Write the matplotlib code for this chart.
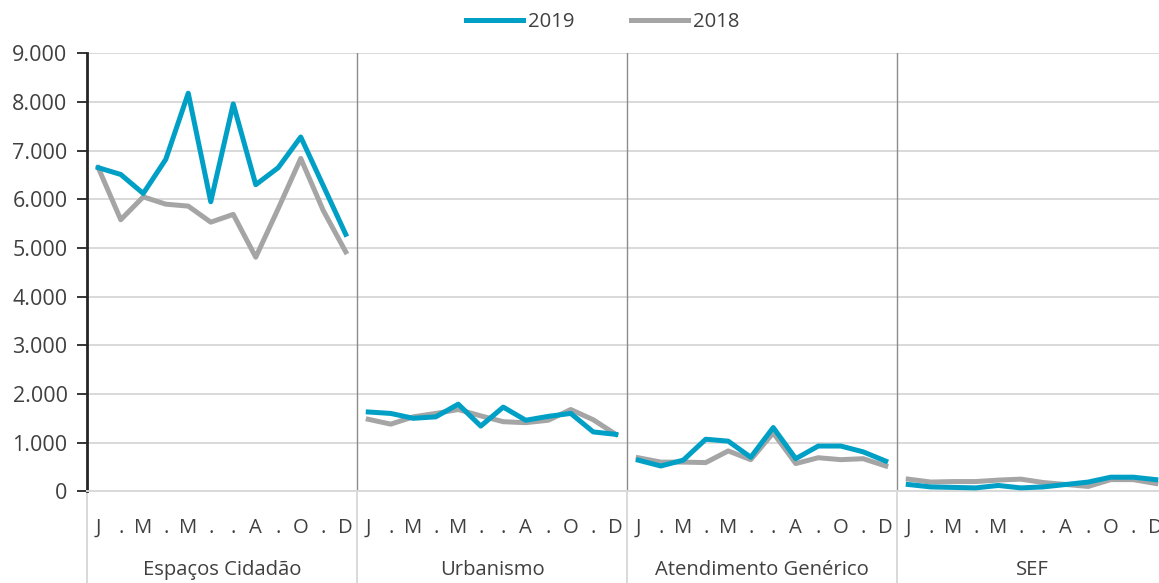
import numpy as np
import matplotlib
matplotlib.use("Agg")
import matplotlib.pyplot as plt
from matplotlib.ticker import FuncFormatter

plt.rcParams['font.family'] = ['Open Sans', 'DejaVu Sans']

# Data
groups = ['Espaços Cidadão', 'Urbanismo', 'Atendimento Genérico', 'SEF']
month_labels = ['J', '.', 'M', '.', 'M', '.', '.', 'A', '.', 'O', '.', 'D']

esp_2019 = [6650, 6510, 6120, 6820, 8180, 5950, 7960, 6300, 6650, 7280, 6280, 5280]
esp_2018 = [6650, 5580, 6050, 5900, 5860, 5530, 5690, 4810, 5810, 6840, 5770, 4920]
urb_2019 = [1630, 1600, 1500, 1530, 1790, 1340, 1730, 1460, 1540, 1600, 1220, 1170]
urb_2018 = [1480, 1380, 1530, 1600, 1680, 1550, 1430, 1410, 1460, 1680, 1470, 1170]
ate_2019 = [640, 520, 640, 1070, 1030, 700, 1310, 670, 930, 930, 810, 620]
ate_2018 = [690, 600, 600, 590, 830, 650, 1200, 570, 690, 650, 670, 520]
sef_2019 = [140, 90, 80, 70, 120, 70, 90, 140, 190, 290, 290, 240]
sef_2018 = [250, 190, 200, 200, 230, 250, 180, 140, 100, 240, 240, 160]

series_2019 = [esp_2019, urb_2019, ate_2019, sef_2019]
series_2018 = [esp_2018, urb_2018, ate_2018, sef_2018]

BLUE = '#00A0C6'
GREY = '#A5A5A5'
TXT = '#404040'
FS = 14.6

fig = plt.figure(figsize=(11.59, 5.83), dpi=100)
ax = fig.add_axes([87 / 1159, (583 - 491.3) / 583, 1080 / 1159, 438 / 583])

# one line segment per group, so groups are not joined
for i in range(len(groups)):
    xg = np.arange(12) + i * 12
    ax.plot(xg, series_2019[i], color=BLUE, lw=3.6, zorder=4,
            label='2019' if i == 0 else None)
    ax.plot(xg, series_2018[i], color=GREY, lw=3.6, zorder=3,
            label='2018' if i == 0 else None)

n = 12 * len(groups)
ax.set_xlim(-0.5, n - 0.5)
ax.set_ylim(0, 9000)
ax.set_yticks(np.arange(0, 9001, 1000))
ax.yaxis.set_major_formatter(FuncFormatter(lambda v, p: '0' if v == 0 else f'{int(v):,}'.replace(',', '.')))
ax.grid(axis='y', color='#D9D9D9', lw=1.4, zorder=0)
ax.set_axisbelow(True)

ax.set_xticks(np.arange(n))
ax.set_xticklabels(month_labels * len(groups))
ax.tick_params(axis='x', length=0, pad=19, labelsize=FS, labelcolor=TXT)
ax.tick_params(axis='y', length=7, width=1.3, color='#262626', direction='out',
               labelsize=15.5, labelcolor=TXT, pad=7)

for s in ['top', 'right']:
    ax.spines[s].set_visible(False)
ax.spines['left'].set_color('#262626')
ax.spines['left'].set_linewidth(2)
ax.spines['bottom'].set_color('#D9D9D9')
ax.spines['bottom'].set_linewidth(1.4)

# group separators and labels
trans = ax.get_xaxis_transform()
for i in range(len(groups)):
    left = i * 12 - 0.5
    if i > 0:
        ax.plot([left, left], [0, 1], color='#8C8C8C', lw=1, transform=trans, zorder=1)
    ax.plot([left, left], [0, -0.215], color='#D9D9D9', lw=1.4, transform=trans, clip_on=False)
    ax.text(i * 12 + 5.5, -0.18, groups[i], transform=trans, ha='center', va='center',
            fontsize=FS, color=TXT)

fig.legend(loc='center', bbox_to_anchor=(0.52, 0.962), ncol=2, frameon=False,
           fontsize=FS, handlelength=2.8, handletextpad=0.25, columnspacing=2.8,
           labelcolor=TXT)

plt.savefig('out.png', dpi=100)
